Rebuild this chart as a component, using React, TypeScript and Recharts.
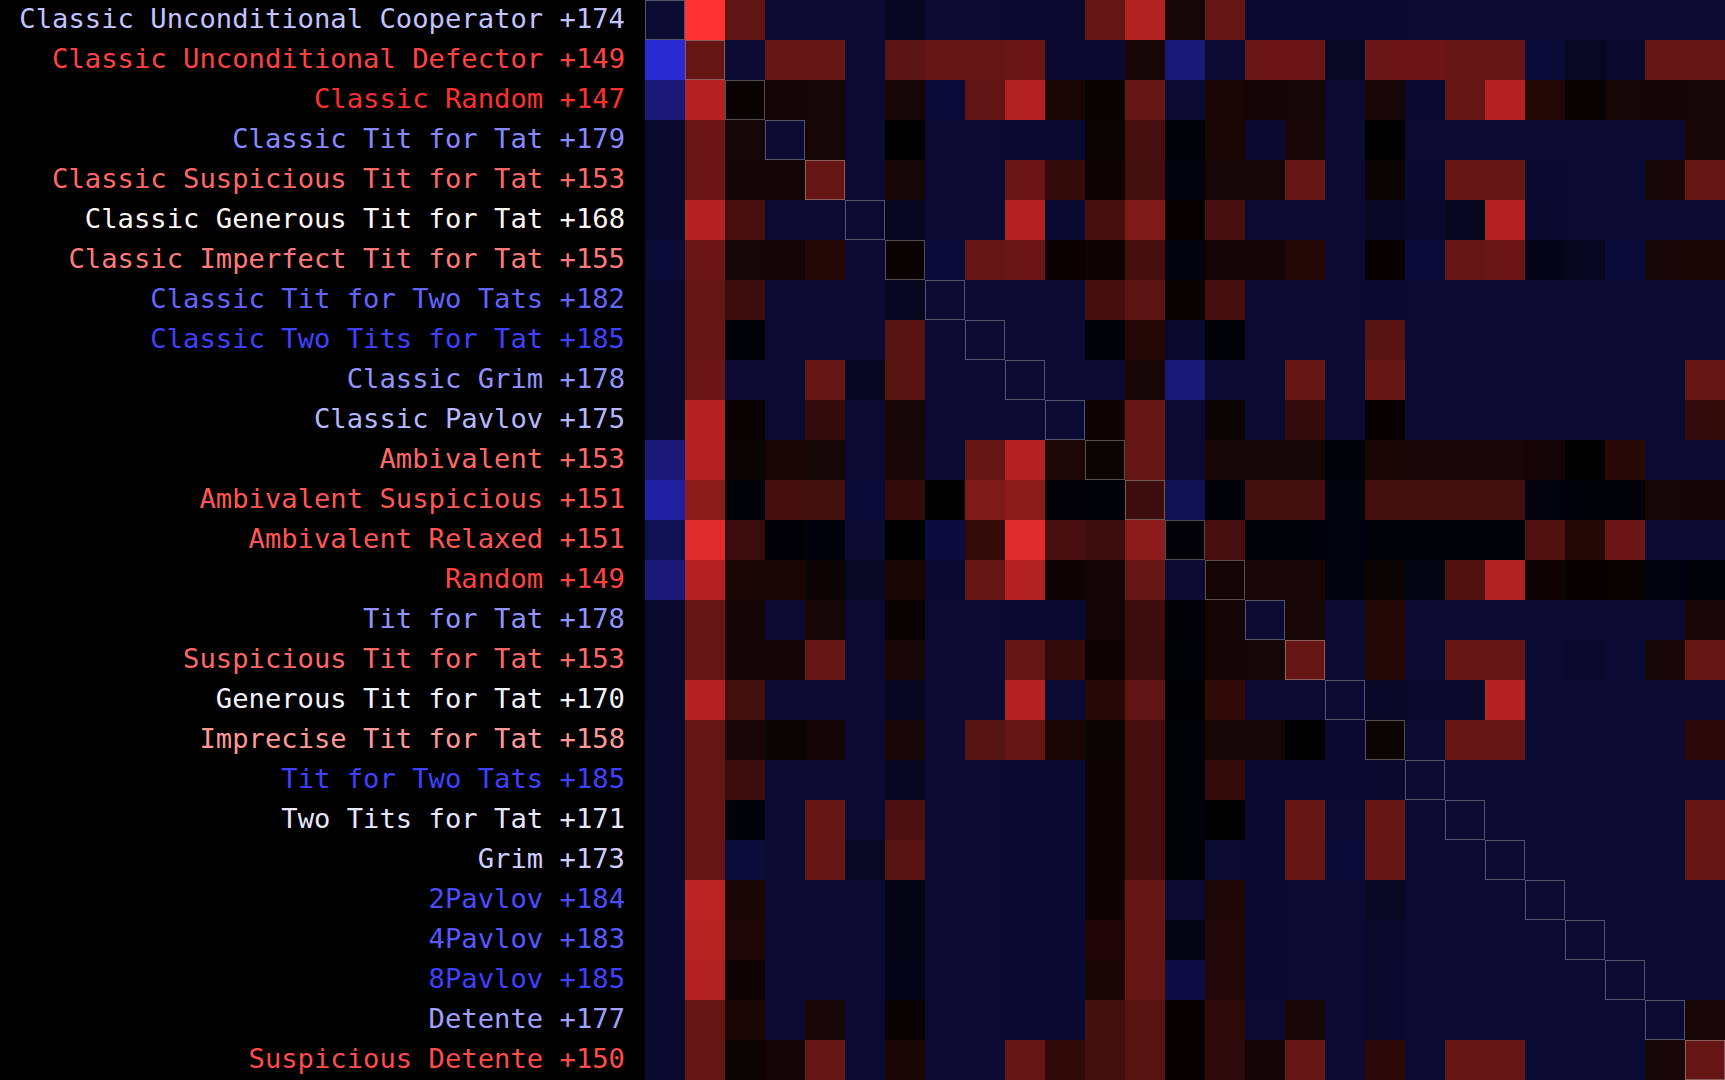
import React from 'react';
import { ScatterChart, Scatter, XAxis, YAxis } from 'recharts';

// Strategy names (rows and columns share the same order)
const STRATEGIES: string[] = [
  'Classic Unconditional Cooperator',
  'Classic Unconditional Defector',
  'Classic Random',
  'Classic Tit for Tat',
  'Classic Suspicious Tit for Tat',
  'Classic Generous Tit for Tat',
  'Classic Imperfect Tit for Tat',
  'Classic Tit for Two Tats',
  'Classic Two Tits for Tat',
  'Classic Grim',
  'Classic Pavlov',
  'Ambivalent',
  'Ambivalent Suspicious',
  'Ambivalent Relaxed',
  'Random',
  'Tit for Tat',
  'Suspicious Tit for Tat',
  'Generous Tit for Tat',
  'Imprecise Tit for Tat',
  'Tit for Two Tats',
  'Two Tits for Tat',
  'Grim',
  '2Pavlov',
  '4Pavlov',
  '8Pavlov',
  'Detente',
  'Suspicious Detente',
];

// Tournament totals shown after each name
const TOTALS: number[] = [
  174, 149, 147, 179, 153, 168, 155, 182, 185, 178, 175, 153, 151, 151, 149,
  178, 153, 170, 158, 185, 171, 173, 184, 183, 185, 177, 150,
];

// Average points per round of row strategy against column strategy
const SCORES: number[][] = [
  [3, 0, 1.05, 3, 3, 3, 2.6, 3, 3, 2.95, 2.95, 1.0, 0.5, 1.78, 1.0, 2.95, 2.95, 2.95, 2.95, 3, 3, 3, 3, 3, 3, 3, 3],
  [5, 1.0, 3, 1.0, 1.0, 3, 1.1, 1.0, 1.0, 0.97, 2.95, 2.95, 1.78, 3.85, 3, 0.97, 0.97, 2.7, 0.97, 0.97, 1.0, 1.0, 3.05, 2.7, 2.9, 1.0, 1.0],
  [3.85, 0.5, 1.9, 1.8, 1.78, 3, 1.78, 3.05, 1.05, 0.5, 1.75, 1.9, 1.0, 3, 1.75, 1.8, 1.78, 3, 1.76, 2.95, 1.0, 0.5, 1.66, 1.92, 1.78, 1.8, 1.78],
  [2.9, 0.97, 1.78, 3, 1.78, 3, 2.0, 3, 3, 2.95, 2.95, 1.88, 1.3, 2.2, 1.75, 2.95, 1.76, 3, 2.0, 3, 3, 3, 3, 3, 3, 3, 1.78],
  [2.9, 0.97, 1.8, 1.8, 1.0, 3, 1.78, 3, 3, 0.97, 1.5, 1.85, 1.35, 2.25, 1.78, 1.78, 1.0, 3, 1.88, 2.95, 1.0, 1.0, 2.95, 3, 3, 1.76, 1.0],
  [2.9, 0.5, 1.3, 3, 3, 3, 2.6, 3, 3, 0.5, 2.95, 1.3, 0.85, 1.95, 1.3, 3, 3, 3, 2.75, 2.85, 2.6, 0.5, 2.95, 3, 3, 3, 3],
  [3.05, 0.97, 1.78, 1.8, 1.65, 3, 1.9, 3.05, 1.0, 0.97, 1.9, 1.85, 1.33, 2.3, 1.8, 1.8, 1.66, 3, 1.93, 3.05, 1.0, 0.97, 2.5, 2.6, 3.05, 1.76, 1.75],
  [2.95, 1.0, 1.4, 3, 3, 3, 2.6, 3, 3, 3, 3, 1.33, 1.1, 1.9, 1.33, 3, 3, 3, 2.95, 3, 3, 3, 3, 3, 3, 3, 3],
  [2.95, 1.0, 2.15, 3, 3, 3, 1.15, 3, 3, 3, 3, 2.2, 1.65, 2.9, 2.15, 3, 3, 3, 1.15, 3, 3, 3, 3, 3, 3, 3, 3],
  [2.9, 0.97, 3, 3, 1.0, 2.6, 1.15, 3, 3, 3, 3, 3, 1.78, 3.85, 3, 3, 1.0, 3, 1.0, 3, 3, 3, 3, 3, 3, 3, 1.0],
  [2.9, 0.5, 1.9, 3, 1.5, 3, 1.78, 3, 3, 3, 3, 1.85, 1.0, 3, 1.88, 3, 1.5, 3, 1.93, 3, 3, 3, 3, 3, 3, 3, 1.5],
  [3.85, 0.5, 1.88, 1.75, 1.78, 3, 1.76, 3, 1.0, 0.5, 1.72, 1.88, 1.0, 3, 1.78, 1.78, 1.78, 2.15, 1.75, 1.76, 1.76, 1.76, 1.8, 2.0, 1.6, 3, 3],
  [4.4, 0.75, 2.15, 1.33, 1.35, 3.05, 1.5, 2.0, 0.85, 0.75, 2.12, 2.15, 1.4, 3.4, 2.15, 1.35, 1.35, 2.25, 1.35, 1.35, 1.35, 1.35, 2.3, 2.2, 2.2, 1.78, 1.8],
  [3.4, 0.2, 1.45, 2.1, 2.2, 3, 2.0, 3.15, 1.5, 0.2, 1.3, 1.4, 0.75, 2.12, 1.3, 2.2, 2.2, 2.3, 2.2, 2.2, 2.2, 2.2, 1.2, 1.65, 0.97, 3, 3],
  [3.85, 0.5, 1.75, 1.75, 1.88, 2.7, 1.75, 2.95, 1.0, 0.5, 1.85, 1.8, 1.0, 3, 1.8, 1.76, 1.76, 2.3, 1.88, 2.35, 1.2, 0.5, 1.85, 1.93, 1.92, 2.3, 2.2],
  [2.9, 1.0, 1.8, 3, 1.78, 3, 1.92, 3, 3, 2.95, 2.95, 1.8, 1.4, 2.12, 1.8, 3, 1.76, 3, 1.66, 3, 3, 3, 3, 3, 3, 3, 1.76],
  [2.9, 1.0, 1.8, 1.8, 1.0, 3, 1.76, 3, 3, 1.0, 1.5, 1.85, 1.4, 2.15, 1.8, 1.78, 1.0, 3, 1.66, 3, 1.0, 1.0, 3, 2.9, 3, 1.76, 1.0],
  [2.9, 0.5, 1.35, 3, 3, 3, 2.6, 3, 3, 0.5, 3, 1.6, 1.05, 2.05, 1.52, 3, 3, 3, 2.8, 2.9, 2.85, 0.5, 3, 3, 3, 3, 3],
  [2.95, 1.0, 1.76, 1.88, 1.8, 3, 1.76, 3, 1.15, 1.0, 1.75, 1.88, 1.33, 2.15, 1.78, 1.78, 2.0, 2.95, 1.88, 3, 1.0, 1.0, 3, 3, 3, 3, 1.57],
  [2.95, 1.0, 1.4, 3, 3, 3, 2.6, 3, 3, 2.95, 2.95, 1.85, 1.33, 2.15, 1.5, 2.95, 2.95, 2.95, 2.9, 3, 3, 3, 3, 3, 3, 3, 3],
  [2.95, 1.0, 2.2, 3, 1.0, 3, 1.25, 3, 3, 2.95, 2.95, 1.85, 1.33, 2.15, 2.0, 2.95, 1.0, 3, 1.0, 3, 3, 3, 3, 3, 3, 3, 1.0],
  [2.95, 1.0, 3.1, 3, 1.0, 2.7, 1.15, 3, 3, 2.95, 2.95, 1.85, 1.33, 2.15, 3, 2.95, 1.0, 3.05, 1.0, 3, 3, 3, 3, 3, 3, 3, 1.0],
  [2.95, 0.45, 1.75, 3, 3, 3, 2.35, 3, 3, 2.95, 2.95, 1.85, 1.0, 3, 1.72, 2.95, 3, 3, 2.7, 3, 3, 3, 3, 3, 3, 3, 3],
  [2.95, 0.47, 1.7, 3, 3, 3, 2.4, 3, 3, 2.95, 2.95, 1.7, 1.0, 2.4, 1.68, 2.95, 3, 3, 2.85, 3, 3, 3, 3, 3, 3, 3, 3],
  [2.95, 0.5, 1.85, 3, 3, 3, 2.5, 3, 3, 2.95, 2.95, 1.75, 1.0, 3.2, 1.68, 2.95, 3, 3, 2.9, 3, 3, 3, 3, 3, 3, 3, 3],
  [2.95, 1.0, 1.75, 3, 1.76, 3, 1.9, 3, 3, 2.95, 2.95, 1.35, 1.15, 1.93, 1.55, 3, 1.76, 3, 2.9, 3, 3, 3, 3, 3, 3, 3, 1.76],
  [2.95, 1.0, 1.88, 1.8, 1.0, 3, 1.75, 3, 3, 1.0, 1.52, 1.35, 1.15, 1.93, 1.55, 1.8, 1.0, 3, 1.57, 3, 1.0, 1.0, 3, 3, 3, 1.76, 1.0],
];

const N = STRATEGIES.length;
const WIDTH = 1725;
const HEIGHT = 1080;
const LABEL_WIDTH = WIDTH - HEIGHT;
const CELL = HEIGHT / N;

// colour scale anchors: score -> rgb
const ANCHORS: [number, number[]][] = [
  [0, [255, 51, 51]],
  [0.5, [178, 34, 34]],
  [1, [102, 21, 21]],
  [2, [0, 0, 0]],
  [3, [10, 10, 51]],
  [5, [42, 42, 210]],
];

function cellColor(v: number): string {
  for (let i = 0; i < ANCHORS.length - 1; i++) {
    const [a, ca] = ANCHORS[i];
    const [b, cb] = ANCHORS[i + 1];
    if (v <= b || i === ANCHORS.length - 2) {
      const t = Math.max(0, Math.min(1, (v - a) / (b - a)));
      const c = ca.map((x, k) => Math.round(x + (cb[k] - x) * t));
      return `rgb(${c[0]},${c[1]},${c[2]})`;
    }
  }
  return '#000';
}

const MID = 169;
const HI = 185;
const LO = 147;
function labelColor(s: number): string {
  if (s >= MID) {
    const t = Math.min(1, (s - MID) / (HI - MID));
    const v = Math.round(255 - t * (255 - 64));
    return `rgb(${v},${v},255)`;
  }
  const t = Math.min(1, (MID - s) / (MID - LO));
  const v = Math.round(255 - t * (255 - 48));
  return `rgb(255,${v},${v})`;
}

const cells = SCORES.flatMap((row, r) =>
  row.map((v, c) => ({ x: c + 0.5, y: r + 0.5, v, r, c }))
);
const diagonal = cells.filter((d) => d.r === d.c);
const TICKS = STRATEGIES.map((_, i) => i + 0.5);

const CellShape = (props: any) => {
  const { cx, cy, payload } = props;
  if (cx == null || cy == null) return null;
  return (
    <rect
      x={cx - CELL / 2}
      y={cy - CELL / 2}
      width={CELL}
      height={CELL}
      fill={cellColor(payload.v)}
      stroke="none"
    />
  );
};

const DiagShape = (props: any) => {
  const { cx, cy } = props;
  if (cx == null || cy == null) return null;
  return (
    <rect
      x={cx - CELL / 2 + 0.5}
      y={cy - CELL / 2 + 0.5}
      width={CELL - 1}
      height={CELL - 1}
      fill="none"
      stroke="rgba(255,255,255,0.3)"
      strokeWidth={1}
    />
  );
};

const LabelTick = (props: any) => {
  const { x, y, payload } = props;
  const i = Math.floor(payload.value);
  if (i < 0 || i >= N) return null;
  return (
    <text
      x={x}
      y={y - 1.5}
      textAnchor="end"
      dominantBaseline="central"
      fill={labelColor(TOTALS[i])}
      fontFamily="'DejaVu Sans Mono', 'Liberation Mono', monospace"
      fontSize={27.2}
    >
      {`${STRATEGIES[i]} +${TOTALS[i]}`}
    </text>
  );
};

export default function App() {
  return (
    <div
      style={{
        position: 'absolute',
        left: 0,
        top: 0,
        width: WIDTH,
        height: HEIGHT,
        background: '#000',
      }}
    >
      <ScatterChart
        width={WIDTH}
        height={HEIGHT}
        margin={{ top: 0, right: 0, bottom: 0, left: 0 }}
      >
        <XAxis type="number" dataKey="x" domain={[0, N]} hide />
        <YAxis
          type="number"
          dataKey="y"
          domain={[0, N]}
          reversed
          ticks={TICKS}
          interval={0}
          width={LABEL_WIDTH}
          axisLine={false}
          tickLine={false}
          tickSize={0}
          tickMargin={20}
          tick={LabelTick}
        />
        <Scatter data={cells} shape={CellShape} isAnimationActive={false} />
        <Scatter data={diagonal} shape={DiagShape} isAnimationActive={false} />
      </ScatterChart>
    </div>
  );
}
